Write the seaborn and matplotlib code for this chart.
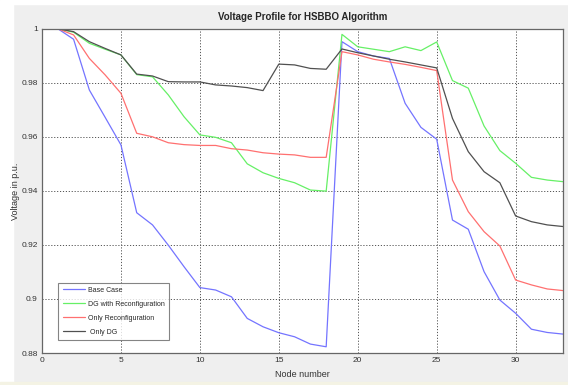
import numpy as np
import pandas as pd
import matplotlib
matplotlib.use("Agg")
import matplotlib.pyplot as plt
import seaborn as sns
from matplotlib.patches import Rectangle

nodes = list(range(1, 34))

base_case = [1.0, 0.9961, 0.9773, 0.9672, 0.957, 0.9319, 0.9274, 0.9199, 0.9119, 0.9042,
             0.9033, 0.9008, 0.8928, 0.8897, 0.8875, 0.886, 0.8833, 0.8823, 0.9952, 0.9915,
             0.9899, 0.989, 0.9724, 0.9635, 0.9591, 0.9292, 0.9258, 0.9101, 0.8996, 0.8947,
             0.8888, 0.8876, 0.887]
dg_reconfig = [1.0, 0.9987, 0.9946, 0.9924, 0.9903, 0.983, 0.9822, 0.9755, 0.9674, 0.9607,
               0.9598, 0.9578, 0.95, 0.9467, 0.9446, 0.943, 0.9403, 0.9399, 0.9979, 0.9933,
               0.9924, 0.9915, 0.9933, 0.9919, 0.9951, 0.9808, 0.978, 0.964, 0.9549, 0.9502,
               0.945, 0.944, 0.9434]
only_reconfig = [1.0, 0.9977, 0.989, 0.9829, 0.9761, 0.9613, 0.96, 0.9578, 0.9571, 0.9568,
                 0.9568, 0.9556, 0.9551, 0.9541, 0.9536, 0.9533, 0.9524, 0.9524, 0.9915, 0.9903,
                 0.9887, 0.9877, 0.9868, 0.9857, 0.9845, 0.944, 0.9323, 0.9249, 0.9196, 0.907,
                 0.9052, 0.9037, 0.9031]
only_dg = [1.0, 0.9989, 0.9952, 0.9927, 0.9903, 0.9832, 0.9825, 0.9804, 0.9803, 0.9803,
           0.9792, 0.9788, 0.9782, 0.9771, 0.9869, 0.9866, 0.9853, 0.985, 0.9925, 0.9911,
           0.9899, 0.9887, 0.9877, 0.9866, 0.9855, 0.9668, 0.9545, 0.9471, 0.943, 0.9307,
           0.9286, 0.9274, 0.9268]

series_names = ["Base Case", "DG with Reconfiguration", "Only Reconfiguration", " Only DG"]
colors = ["#7474ff", "#66f066", "#ff7070", "#505050"]

df = pd.DataFrame({"node": nodes * 4,
                   "voltage": base_case + dg_reconfig + only_reconfig + only_dg,
                   "case": sum([[n] * len(nodes) for n in series_names], [])})

sns.set_style("white")
plt.rcParams['font.family'] = ['Liberation Sans', 'DejaVu Sans']

fig = plt.figure(figsize=(5.68, 3.85), dpi=100, facecolor="#efefef")
# white margin on the left/top and the pale strip at the bottom of the screenshot
fig.patches.append(Rectangle((0, 0), 13 / 568, 1, transform=fig.transFigure, color="white", zorder=-1))
fig.patches.append(Rectangle((0, 1 - 4 / 385), 1, 4 / 385, transform=fig.transFigure, color="white", zorder=-1))
fig.patches.append(Rectangle((0, 0), 1, 3.5 / 385, transform=fig.transFigure, color="#f4f3e4", zorder=-1))

ax = fig.add_axes([42 / 568, 1 - 353 / 385, 521 / 568, (353 - 28.7) / 385])
sns.lineplot(data=df, x="node", y="voltage", hue="case", palette=colors,
             linewidth=0.9, ax=ax, legend=True)

ax.set_xlim(0, 33)
ax.set_ylim(0.88, 1.0)
ax.set_xticks([0, 5, 10, 15, 20, 25, 30])
ax.set_yticks([0.88, 0.9, 0.92, 0.94, 0.96, 0.98, 1.0])
ax.set_yticklabels(["0.88", "0.9", "0.92", "0.94", "0.96", "0.98", "1"])
ax.tick_params(labelsize=6, colors="#333333", length=3, direction="in", pad=3)
ax.grid(True, color="#555555", linestyle=(0, (1.2, 1.8)), linewidth=0.7)
for s in ax.spines.values():
    s.set_color("#666666")
    s.set_linewidth(0.9)

ax.set_title("Voltage Profile for HSBBO Algorithm", fontsize=7, fontweight="bold", pad=6)
ax.set_xlabel("Node number", fontsize=6.5, color="#333333", labelpad=4)
ax.set_ylabel("Voltage in p.u.", fontsize=6.5, color="#333333")
ax.yaxis.set_label_coords(-0.042, 0.5)

leg = ax.legend(loc="lower left", bbox_to_anchor=(0.025, 0.03), fontsize=5, frameon=True,
                fancybox=False, edgecolor="#666666", handlelength=3.2, labelspacing=1.0,
                borderpad=0.6, handletextpad=0.4)
leg.get_frame().set_linewidth(0.8)

fig.savefig("out.png", dpi=100, facecolor=fig.get_facecolor())
